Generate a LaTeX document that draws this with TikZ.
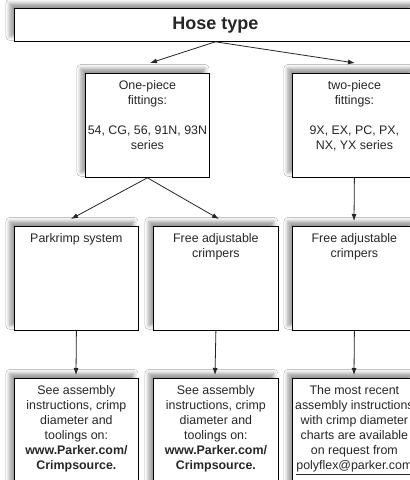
\documentclass[tikz,border=0pt]{standalone}
\usepackage{fontspec}
\setmainfont{Liberation Sans}
\usetikzlibrary{arrows.meta,shadows.blur}
\newcommand{\bt}[3]{\parbox[c][#2][t]{#1}{\centering\fontsize{12.4pt}{15pt}\selectfont\vspace*{7.5pt}#3\par}}
\tikzset{
  boxnode/.style={draw=black, line width=0.8pt, fill=white, inner sep=0pt, anchor=north west, text=black!85,
    blur shadow={shadow xshift=-4.5pt, shadow yshift=5pt, shadow blur radius=4pt, shadow opacity=40}},
  conn/.style={draw=black!85, line width=0.8pt, -{Latex[length=7pt,width=5pt]}}
}
\begin{document}
\begin{tikzpicture}[x=1pt,y=1pt]
\useasboundingbox (0,0) rectangle (410,480);
\clip (0,0) rectangle (410,480);
\fill[white] (0,0) rectangle (410,480);
% top
\node[boxnode, minimum width=402pt, minimum height=33pt, font=\fontsize{18pt}{20pt}\selectfont\bfseries] (top) at (14,472) {Hose type};
% row 1
\node[boxnode] (one) at (85,407) {\bt{124pt}{104pt}{One-piece\\fittings:\\[15pt]54, CG, 56, 91N, 93N\\series}};
\node[boxnode] (two) at (292,407) {\bt{124pt}{104pt}{two-piece\\fittings:\\[15pt]9X, EX, PC, PX,\\NX, YX series}};
% row 2
\node[boxnode] (ra) at (14,254) {\bt{124pt}{104pt}{Parkrimp system}};
\node[boxnode] (rb) at (153,254) {\bt{125pt}{104pt}{Free adjustable\\crimpers}};
\node[boxnode] (rc) at (292,254) {\bt{124pt}{104pt}{Free adjustable\\crimpers}};
% row 3
\node[boxnode] (sa) at (14,102) {\bt{124pt}{112pt}{See assembly\\instructions, crimp\\diameter and\\toolings on:\\\textbf{www.Parker.com/}\\\textbf{Crimpsource.}}};
\node[boxnode] (sb) at (153,102) {\bt{125pt}{112pt}{See assembly\\instructions, crimp\\diameter and\\toolings on:\\\textbf{www.Parker.com/}\\\textbf{Crimpsource.}}};
\node[boxnode] (sc) at (292,102) {\bt{124pt}{112pt}{The most recent\\assembly instructions\\with crimp diameter\\charts are available\\on request from\\\underline{polyflex@parker.com}}};
% arrow tips
\coordinate (t1) at (150,417);
\coordinate (t2) at (355,417);
\coordinate (t3) at (71,261);
\coordinate (t4) at (219,261);
\coordinate (t5) at (354,259);
\coordinate (t6) at (76,105);
\coordinate (t7) at (215,105);
\coordinate (t8) at (354,105);
\draw[conn] (top.south) -- (t1);
\draw[conn] (top.south) -- (t2);
\draw[conn] (one.south) -- (t3);
\draw[conn] (one.south) -- (t4);
\draw[conn] (two.south) -- (t5);
\draw[conn] (ra.south) -- (t6);
\draw[conn] (rb.south) -- (t7);
\draw[conn] (rc.south) -- (t8);
\end{tikzpicture}
\end{document}
